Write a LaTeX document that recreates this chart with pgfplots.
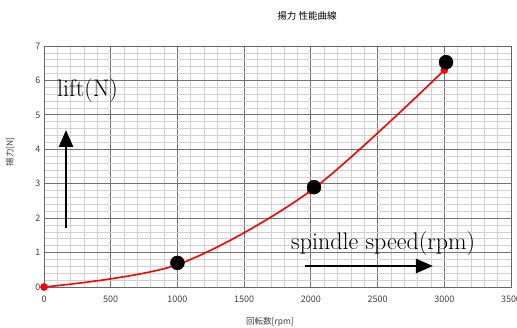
\documentclass[border=0pt]{standalone}
\usepackage{fontspec}
\newfontfamily\cjk{Noto Sans CJK JP}
\usepackage{pgfplots}
\pgfplotsset{compat=1.18}
\usetikzlibrary{arrows.meta}
\begin{document}
\begin{tikzpicture}
\begin{axis}[
  at={(0pt,0pt)}, anchor=south west,
  scale only axis, width=467pt, height=241pt,
  xmin=0, xmax=3500, ymin=0, ymax=7,
  xtick distance=500, ytick distance=1,
  minor x tick num=4, minor y tick num=4,
  grid=both,
  major grid style={draw=black!55, line width=0.8pt},
  minor grid style={draw=black!18, line width=0.6pt},
  tick style={draw=none},
  axis line style={draw=black!60, line width=0.9pt},
  ticklabel style={font=\cjk\fontsize{9}{9}\selectfont, text=black!75},
  xticklabel style={yshift=-5pt},
  scaled x ticks=false,
  /pgf/number format/1000 sep={},
  /pgf/number format/assume math mode=true,
]
\addplot[red, line width=1.6pt, smooth, mark=*, mark size=3pt] coordinates {(0,0) (1000,0.65) (2000,2.8) (3000,6.3)};
\addplot[only marks, mark=*, mark size=7pt, black] coordinates {(1000,0.70) (2024,2.90) (3013,6.53)};
\draw[line width=2.6pt, -{Triangle[length=17pt,width=14pt]}] (axis cs:165,1.71) -- (axis cs:165,4.56);
\draw[line width=2.6pt, -{Triangle[length=17pt,width=14pt]}] (axis cs:1956,0.61) -- (axis cs:2915,0.61);
\node[anchor=base west, inner sep=0pt, font=\fontsize{24}{24}\selectfont] at (axis cs:97,5.52) {lift(N)};
\node[anchor=base west, inner sep=0pt, font=\fontsize{24}{24}\selectfont] at (axis cs:1851,1.10) {spindle speed(rpm)};
\end{axis}
\node[font=\cjk\fontsize{9.5}{9.5}\selectfont] at (263pt,271pt) {揚力 性能曲線};
\node[font=\cjk\fontsize{8.5}{8.5}\selectfont, text=black!75] at (226pt,-35pt) {回転数[rpm]};
\node[font=\cjk\fontsize{8.5}{8.5}\selectfont, text=black!75, rotate=90] at (-34pt,135pt) {揚力[N]};
\pgfresetboundingbox
\path[use as bounding box] (-44pt,-41pt) rectangle (473pt,287pt);
\end{tikzpicture}
\end{document}
